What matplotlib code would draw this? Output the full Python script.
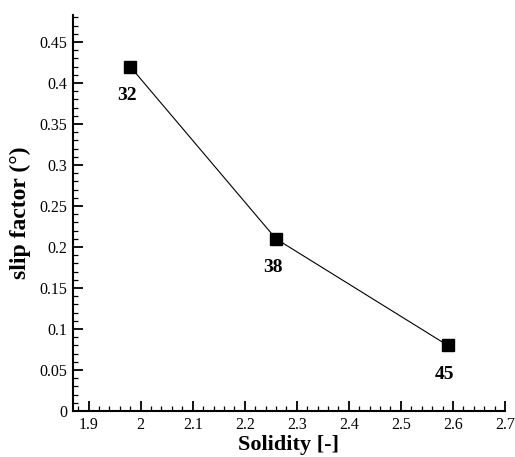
#!/usr/bin/env python
"""
Slip factor vs solidity
"""
import matplotlib

matplotlib.use("Agg")
import matplotlib.pyplot as plt
from matplotlib.ticker import MultipleLocator

# data
solidity = [1.98, 2.26, 2.59]
slip = [0.42, 0.21, 0.08]
blades = ["32", "38", "45"]

plt.rcParams["font.family"] = ["Liberation Serif", "DejaVu Serif"]
plt.rcParams["mathtext.fontset"] = "stix"

fig = plt.figure(figsize=(5.15, 4.57), dpi=100)
ax = fig.add_axes([73 / 515, 46 / 457, 432 / 515, 396 / 457])

ax.plot(solidity, slip, color="black", lw=0.8, marker="s", ms=8,
        mfc="black", mec="black")

for x, y, lab in zip(solidity, slip, blades):
    ax.annotate(lab, (x, y), xytext=(-2, -21), textcoords="offset points",
                ha="center", va="center", fontsize=14, fontweight="bold")

ax.set_xlim(1.87, 2.7)
ax.set_ylim(0, 0.483)
ax.xaxis.set_major_locator(MultipleLocator(0.1))
ax.xaxis.set_minor_locator(MultipleLocator(0.02))
ax.yaxis.set_major_locator(MultipleLocator(0.05))
ax.yaxis.set_minor_locator(MultipleLocator(0.01))
ax.xaxis.set_major_formatter(plt.FuncFormatter(lambda v, p: f"{v:g}"))
ax.yaxis.set_major_formatter(plt.FuncFormatter(lambda v, p: f"{v:g}"))

ax.spines["top"].set_visible(False)
ax.spines["right"].set_visible(False)
for s in ("left", "bottom"):
    ax.spines[s].set_linewidth(1.5)

ax.tick_params(which="major", direction="in", length=7, width=1.3,
               labelsize=11.5, pad=4)
ax.tick_params(which="minor", direction="in", length=3.5, width=0.9)

ax.set_xlabel("Solidity [-]", fontsize=16, fontweight="bold", labelpad=2)
ax.set_ylabel("slip factor (°)", fontsize=17, fontweight="bold", labelpad=6)

fig.savefig("out.png", dpi=100)
